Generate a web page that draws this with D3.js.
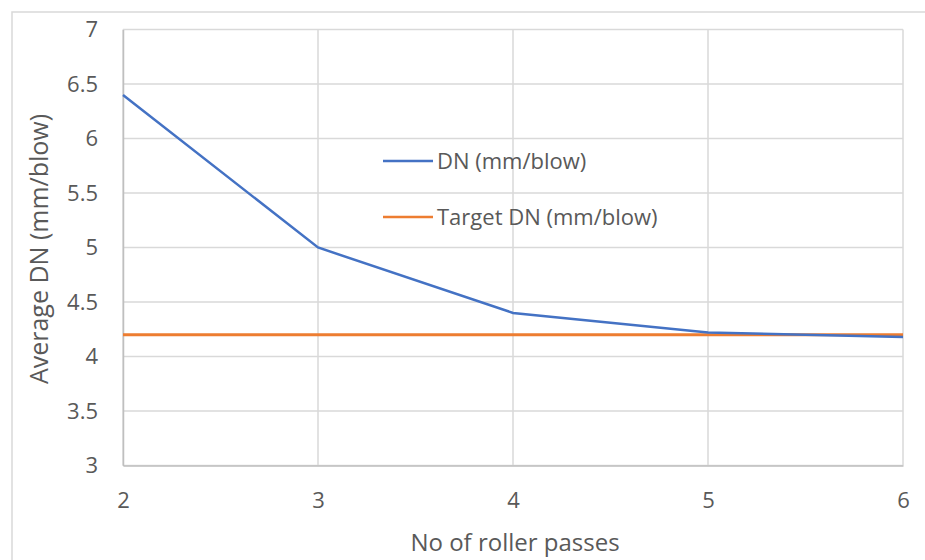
<!DOCTYPE html>
<html>
<head>
<meta charset="utf-8">
<script src="https://cdn.jsdelivr.net/npm/d3@7"></script>
<style>
  html, body { margin: 0; padding: 0; background: #fff; }
  svg { display: block; }
  text { font-family: "Open Sans", "Noto Sans", sans-serif; fill: #595959; }
</style>
</head>
<body>
<svg id="chart" width="925" height="560"></svg>
<script>
// Roller passes and measured / target penetration (DN, mm per blow)
const passes = [2, 3, 4, 5, 6];
const dnValues = [6.4, 5.0, 4.4, 4.22, 4.18];
const targetValues = [4.2, 4.2, 4.2, 4.2, 4.2];
const yTicks = [3, 3.5, 4, 4.5, 5, 5.5, 6, 6.5, 7];
const xTicks = [2, 3, 4, 5, 6];
const seriesNames = ["DN (mm/blow)", "Target DN (mm/blow)"];

const W = 925, H = 560;
const margin = { left: 123, right: 22, top: 29.5, bottom: 94.5 };
const svg = d3.select("#chart");

// outer chart frame
svg.append("rect")
  .attr("x", 12).attr("y", 12)
  .attr("width", W).attr("height", H)
  .attr("fill", "none").attr("stroke", "#d9d9d9").attr("stroke-width", 1.5);

const x = d3.scaleLinear().domain([2, 6]).range([margin.left, W - margin.right]);
const y = d3.scaleLinear().domain([3, 7]).range([H - margin.bottom, margin.top]);

// gridlines
const grid = svg.append("g");
grid.selectAll("line.h").data(yTicks).join("line")
  .attr("x1", x(2)).attr("x2", x(6))
  .attr("y1", d => y(d)).attr("y2", d => y(d))
  .attr("stroke", "#d9d9d9").attr("stroke-width", 1.5);
grid.selectAll("line.v").data(xTicks).join("line")
  .attr("y1", y(3)).attr("y2", y(7))
  .attr("x1", d => x(d)).attr("x2", d => x(d))
  .attr("stroke", "#d9d9d9").attr("stroke-width", 1.5);

// axes (labels only, lines come from the grid)
const yAxis = svg.append("g")
  .attr("transform", `translate(${margin.left},0)`)
  .call(d3.axisLeft(y).tickValues(yTicks).tickSize(0).tickPadding(25).tickFormat(d3.format("")));
yAxis.select(".domain").attr("stroke", "#bfbfbf").attr("stroke-width", 1.5);
yAxis.selectAll("text").style("font-size", "22px").attr("fill", "#595959");

const xAxis = svg.append("g")
  .attr("transform", `translate(0,${y(3)})`)
  .call(d3.axisBottom(x).tickValues(xTicks).tickSize(0).tickPadding(27).tickFormat(d3.format("d")));
xAxis.select(".domain").attr("stroke", "#bfbfbf").attr("stroke-width", 1.5);
xAxis.selectAll("text").style("font-size", "22px").attr("fill", "#595959");

// series lines
const line = d3.line().x((d, i) => x(passes[i])).y(d => y(d));
svg.append("path").datum(targetValues)
  .attr("d", line).attr("fill", "none")
  .attr("stroke", "#ED7D31").attr("stroke-width", 3);
svg.append("path").datum(dnValues)
  .attr("d", line).attr("fill", "none")
  .attr("stroke", "#4472C4").attr("stroke-width", 2.5);

// legend
const legendColors = ["#4472C4", "#ED7D31"];
const legend = svg.append("g").selectAll("g").data(seriesNames).join("g")
  .attr("transform", (d, i) => `translate(383,${161 + i * 56})`);
legend.append("line")
  .attr("x1", 0).attr("x2", 50).attr("y1", 0).attr("y2", 0)
  .attr("stroke", (d, i) => legendColors[i]).attr("stroke-width", 2.5);
legend.append("text")
  .attr("x", 54).attr("y", 0).attr("dy", "0.35em")
  .style("font-size", "22px").text(d => d);

// axis titles
svg.append("text")
  .attr("transform", `translate(48,${249}) rotate(-90)`)
  .attr("text-anchor", "middle")
  .style("font-size", "25px")
  .text("Average DN (mm/blow)");
svg.append("text")
  .attr("x", 515).attr("y", 551)
  .attr("text-anchor", "middle")
  .style("font-size", "24px")
  .text("No of roller passes");
</script>
</body>
</html>
